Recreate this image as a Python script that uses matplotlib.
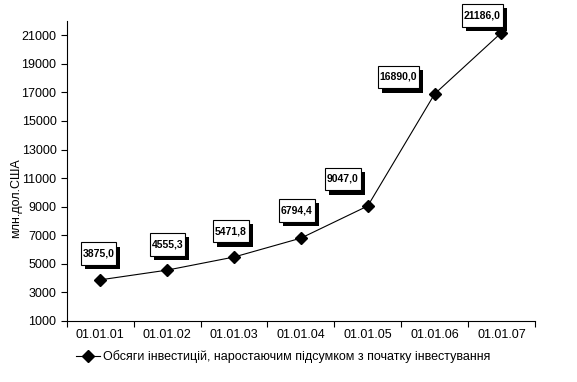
import matplotlib
matplotlib.use('Agg')
from matplotlib import pyplot as plt
from matplotlib.path import Path
import matplotlib.patheffects as pe

plt.rcParams['font.family'] = ['Liberation Sans', 'DejaVu Sans']

dates = ['01.01.01', '01.01.02', '01.01.03', '01.01.04', '01.01.05', '01.01.06', '01.01.07']
values = [3875.0, 4555.3, 5471.8, 6794.4, 9047.0, 16890.0, 21186.0]
series_name = 'Обсяги інвестицій, наростаючим підсумком з початку інвестування'

# зсув підписів (пікселі)
label_offsets = [(-2, 26), (0, 26), (-3, 26), (-4, 28), (-25, 27), (-36, 17), (-19, 17)]


# рамка підпису: вузька по горизонталі, висока по вертикалі
def label_box(x0, y0, width, height, mutation_size):
    px = 0.18 * mutation_size
    py = 0.62 * mutation_size
    return Path([(x0 - px, y0 - py), (x0 + width + px, y0 - py),
                 (x0 + width + px, y0 + height + py), (x0 - px, y0 + height + py),
                 (x0 - px, y0 - py)], closed=True)


fig = plt.figure(figsize=(5.77, 3.82), dpi=100)
ax = fig.add_axes([0.116, 0.160, 0.811, 0.785])

x = list(range(len(dates)))
ax.plot(x, values, color='black', linewidth=0.8, marker='D', markersize=6.5,
        markerfacecolor='black', markeredgecolor='black', label=series_name)

for xi, v, (dx, dy) in zip(x, values, label_offsets):
    t = ax.annotate(f'{v:.1f}'.replace('.', ','), (xi, v), xytext=(dx, dy),
                    textcoords='offset pixels', ha='center', va='center',
                    fontsize=7.5, fontweight='bold',
                    bbox=dict(boxstyle=label_box, fc='white', ec='black', lw=0.8))
    t.get_bbox_patch().set_path_effects([
        pe.SimplePatchShadow(offset=(3, -3), shadow_rgbFace='black', alpha=1),
        pe.Normal()])

ax.set_xlim(-0.5, len(dates) - 0.5)
ax.set_ylim(1000, 22000)
ax.set_yticks(range(1000, 22000, 2000))
ax.set_xticks([i + 0.5 for i in range(-1, len(dates))])
ax.set_xticklabels([])
ax.set_xticks(x, minor=True)
ax.set_xticklabels(dates, minor=True)
ax.tick_params(axis='x', which='major', direction='out', length=4, width=0.8)
ax.tick_params(axis='x', which='minor', length=0, pad=6, labelsize=9)
ax.tick_params(axis='y', direction='out', length=4, width=0.8, labelsize=9)

for s in ['top', 'right']:
    ax.spines[s].set_visible(False)
for s in ['left', 'bottom']:
    ax.spines[s].set_linewidth(0.8)

ax.set_ylabel('млн.дол.США', fontsize=9)
ax.yaxis.set_label_coords(-0.096, 0.41)

fig.legend(loc='lower center', bbox_to_anchor=(0.491, 0.02), frameon=False,
           fontsize=9, handlelength=1.9, handletextpad=0.25)

plt.savefig('out.png', dpi=100)
